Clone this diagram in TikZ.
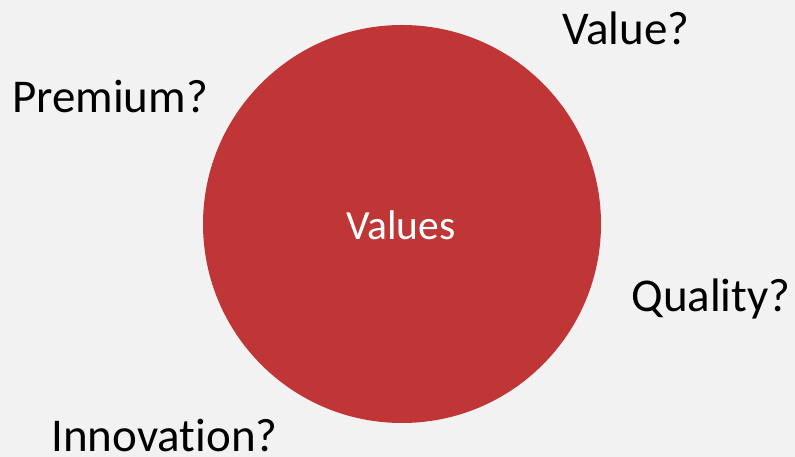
\documentclass[tikz,border=0pt]{standalone}
\usepackage{fontspec}
\setmainfont{Carlito}[Ligatures=NoCommon]
\definecolor{valred}{RGB}{192,54,54}
\definecolor{bggray}{RGB}{242,242,242}

\begin{document}
\begin{tikzpicture}[x=1pt, y=1pt,
		word/.style={anchor=base, inner sep=0pt, font=\fontsize{47}{47}\selectfont}]
				\fill[bggray] (0,0) rectangle (795,457);
				\useasboundingbox (0,0) rectangle (795,457);
				\fill[valred] (402,233) circle (199);
				\node[word, text=white, font=\fontsize{41.5}{41.5}\selectfont] (values) at (401,217) {Values};
				\node[word] (value) at (626,412) {Value?};
				\node[word] (premium) at (110,344) {Premium?};
				\node[word] (quality) at (711,145) {Quality?};
				\node[word] (innovation) at (164.5,5.5) {Innovation?};
			\end{tikzpicture}
\end{document}
